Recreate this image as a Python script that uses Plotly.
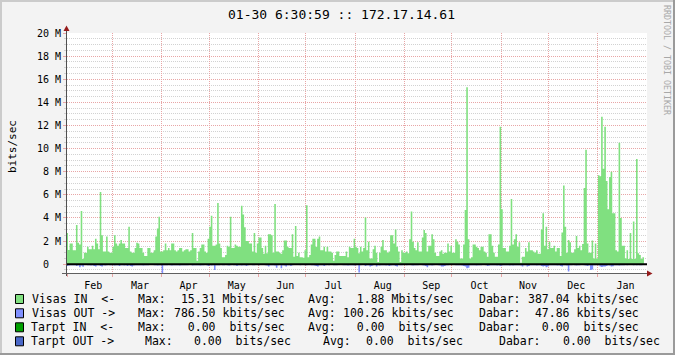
import plotly.graph_objects as go
import pandas as pd

# ---------------- data (Mbits/sec, one value per day) ----------------
START_DAY = "2010-01-31"

VISAS_IN = [
    2.7, 1.24, 1.8, 1.8, 1.2, 1.2, 3.4, 1.85, 1.7, 4.6,
    0.45, 1.0, 1.0, 1.5, 1.3, 1.3, 1.6, 1.3, 2.2, 1.8,
    1.3, 6.25, 2.5, 1.1, 1.1, 2.4, 1.1, 1.0, 1.0, 1.5,
    2.5, 1.8, 1.6, 1.8, 2.1, 1.8, 1.8, 1.4, 1.4, 3.25,
    1.1, 1.0, 1.0, 1.4, 1.85, 1.8, 1.4, 1.4, 1.0, 0.7,
    0.7, 1.4, 1.4, 1.0, 1.0, 1.2, 2.4, 3.1, 4.1, 1.1,
    1.1, 1.2, 1.8, 1.2, 1.4, 1.2, 1.8, 1.8, 1.2, 1.1,
    1.2, 1.4, 1.4, 1.1, 1.2, 1.3, 1.3, 1.1, 1.2, 2.7,
    1.4, 1.4, 0.3, 1.1, 1.4, 1.7, 1.7, 1.1, 1.0, 2.2,
    3.25, 4.2, 1.6, 1.6, 1.7, 5.3, 1.8, 1.4, 0.6, 0.6,
    0.8, 1.6, 1.5, 4.1, 1.4, 1.4, 1.7, 1.6, 1.5, 1.5,
    5.05, 4.3, 3.2, 2.0, 2.0, 1.8, 1.8, 1.1, 2.7, 1.0,
    1.8, 2.3, 2.3, 1.4, 0.9, 1.6, 0.95, 2.6, 2.6, 2.5,
    1.0, 5.2, 1.1, 1.1, 1.0, 0.9, 1.2, 2.05, 2.05, 1.5,
    1.4, 1.4, 2.6, 0.65, 3.3, 0.7, 1.0, 0.6, 0.6, 0.55,
    1.2, 5.1, 0.6, 0.8, 1.7, 2.2, 2.2, 1.5, 2.2, 2.4,
    1.2, 1.2, 1.5, 1.1, 1.5, 1.1, 1.1, 1.0, 0.3, 0.8,
    1.1, 1.1, 0.7, 0.7, 0.7, 0.7, 1.1, 0.6, 1.5, 1.4,
    1.4, 2.2, 1.5, 1.4, 0.95, 1.5, 1.1, 1.4, 4.05, 1.2,
    1.95, 0.5, 0.5, 1.3, 1.6, 1.0, 0.2, 1.0, 1.5, 2.1,
    1.2, 1.2, 1.0, 1.1, 2.5, 2.5, 1.8, 3.0, 1.5, 1.1,
    0.2, 1.2, 1.0, 1.0, 1.1, 0.95, 2.15, 4.55, 1.95, 1.4,
    1.2, 1.9, 1.1, 1.1, 2.3, 2.95, 2.7, 1.1, 1.6, 1.6,
    2.6, 2.15, 1.0, 0.7, 0.7, 1.1, 1.2, 0.9, 1.0, 1.0,
    1.8, 1.1, 1.6, 1.0, 1.0, 2.15, 1.95, 1.7, 0.5, 0.5,
    1.7, 4.7, 15.31, 2.15, 0.5, 0.6, 1.7, 1.7, 1.5, 1.4,
    1.2, 1.5, 1.5, 1.1, 1.0, 0.65, 2.6, 2.6, 1.6, 1.0,
    0.65, 0.65, 1.7, 11.9, 4.75, 1.4, 1.4, 1.1, 1.1, 1.6,
    5.65, 1.7, 2.15, 2.6, 1.5, 1.9, 0.13, 0.65, 0.65, 1.4,
    1.1, 1.9, 1.2, 1.2, 1.1, 1.0, 1.2, 0.9, 0.9, 3.0,
    4.4, 1.6, 3.25, 1.3, 1.95, 1.4, 1.4, 1.6, 1.1, 1.4,
    1.4, 0.7, 2.75, 6.8, 3.25, 1.0, 2.1, 1.9, 1.0, 1.0,
    1.3, 2.45, 1.4, 1.6, 1.2, 1.75, 6.6, 9.9, 1.8, 1.0,
    1.0, 2.05, 0.5, 1.8, 0.5, 7.7, 7.6, 12.75, 8.25, 11.9,
    7.2, 4.75, 7.55, 8.0, 4.4, 4.4, 1.2, 1.1, 10.5, 4.0,
    1.6, 1.6, 0.5, 1.2, 0.45, 2.7, 0.45, 3.7, 0.45, 9.1,
    0.95, 0.8, 0.45, 0.6,
]

VISAS_OUT = [
    0.15, 0.12, 0.1, 0.1, 0.08, 0.1, 0.15, 0.1, 0.26, 0.12,
    0.22, 0.05, 0.0, 0.1, 0.08, 0.12, 0.1, 0.15, 0.2, 0.1,
    0.1, 0.15, 0.2, 0.1, 0.12, 0.08, 0.0, 0.1, 0.1, 0.1,
    0.12, 0.1, 0.1, 0.15, 0.1, 0.1, 0.12, 0.1, 0.15, 0.1,
    0.15, 0.2, 0.12, 0.1, 0.1, 0.1, 0.08, 0.1, 0.12, 0.1,
    0.1, 0.1, 0.05, 0.0, 0.05, 0.08, 0.1, 0.12, 0.1, 0.1,
    0.786, 0.1, 0.08, 0.1, 0.05, 0.1, 0.12, 0.1, 0.08, 0.1,
    0.1, 0.12, 0.1, 0.1, 0.08, 0.1, 0.1, 0.0, 0.05, 0.12,
    0.1, 0.1, 0.1, 0.08, 0.12, 0.1, 0.1, 0.05, 0.1, 0.15,
    0.1, 0.12, 0.1, 0.5, 0.1, 0.1, 0.08, 0.05, 0.1, 0.1,
    0.0, 0.1, 0.12, 0.1, 0.05, 0.08, 0.1, 0.15, 0.1, 0.1,
    0.12, 0.1, 0.1, 0.15, 0.1, 0.0, 0.05, 0.1, 0.08, 0.0,
    0.05, 0.1, 0.0, 0.0, 0.05, 0.1, 0.12, 0.2, 0.1, 0.08,
    0.1, 0.12, 0.3, 0.1, 0.05, 0.35, 0.1, 0.12, 0.2, 0.08,
    0.1, 0.15, 0.1, 0.05, 0.0, 0.05, 0.0, 0.1, 0.0, 0.05,
    0.1, 0.1, 0.0, 0.05, 0.1, 0.08, 0.12, 0.15, 0.2, 0.1,
    0.08, 0.1, 0.15, 0.1, 0.05, 0.1, 0.0, 0.05, 0.1, 0.08,
    0.1, 0.05, 0.0, 0.05, 0.1, 0.1, 0.08, 0.12, 0.1, 0.1,
    0.1, 0.12, 0.1, 0.05, 0.72, 0.1, 0.0, 0.05, 0.15, 0.1,
    0.08, 0.2, 0.15, 0.1, 0.05, 0.2, 0.1, 0.12, 0.1, 0.1,
    0.1, 0.12, 0.1, 0.15, 0.12, 0.1, 0.1, 0.15, 0.2, 0.05,
    0.1, 0.08, 0.0, 0.05, 0.1, 0.0, 0.05, 0.1, 0.12, 0.1,
    0.1, 0.08, 0.0, 0.05, 0.1, 0.12, 0.15, 0.26, 0.1, 0.1,
    0.12, 0.1, 0.05, 0.0, 0.1, 0.12, 0.2, 0.2, 0.15, 0.1,
    0.1, 0.05, 0.0, 0.0, 0.05, 0.1, 0.1, 0.08, 0.1, 0.12,
    0.15, 0.2, 0.35, 0.3, 0.1, 0.1, 0.08, 0.1, 0.12, 0.1,
    0.1, 0.1, 0.05, 0.05, 0.1, 0.15, 0.12, 0.1, 0.1, 0.08,
    0.1, 0.12, 0.1, 0.15, 0.12, 0.1, 0.1, 0.08, 0.1, 0.12,
    0.1, 0.12, 0.1, 0.08, 0.1, 0.1, 0.12, 0.2, 0.1, 0.1,
    0.2, 0.15, 0.1, 0.1, 0.08, 0.1, 0.12, 0.1, 0.1, 0.15,
    0.2, 0.15, 0.26, 0.2, 0.1, 0.1, 0.08, 0.1, 0.1, 0.12,
    0.1, 0.15, 0.2, 0.1, 0.1, 0.12, 0.64, 0.1, 0.08, 0.05,
    0.1, 0.12, 0.1, 0.1, 0.05, 0.0, 0.08, 0.12, 0.15, 0.1,
    0.5, 0.45, 0.1, 0.08, 0.05, 0.1, 0.2, 0.25, 0.2, 0.2,
    0.15, 0.1, 0.12, 0.2, 0.18, 0.1, 0.08, 0.1, 0.12, 0.1,
    0.1, 0.08, 0.05, 0.1, 0.05, 0.0, 0.05, 0.1, 0.05, 0.1,
    0.05, 0.1, 0.08, 0.05,
]

Y_TICKS = [0, 2, 4, 6, 8, 10, 12, 14, 16, 18, 20]
Y_TICKTEXT = ["0\u00a0\u00a0", "2 M", "4 M", "6 M", "8 M", "10 M", "12 M",
              "14 M", "16 M", "18 M", "20 M"]

TITLE = "01-30 6:30:59 :: 172.17.14.61"
Y_TITLE = "bits/sec"
WATERMARK = "RRDTOOL / TOBI OETIKER"

LEGEND_NAMES = ["Visas IN  <-", "Visas OUT ->", "Tarpt IN  <-", "Tarpt OUT ->"]
LEGEND_COLORS = ["#80E080", "#8090FF", "#00A000", "#4A68C8"]
LEGEND_MAX = [" 15.31 Mbits/sec", "786.50 kbits/sec", "  0.00  bits/sec", "0.00  bits/sec"]
LEGEND_AVG = ["  1.88 Mbits/sec", "100.26 kbits/sec", "  0.00  bits/sec", "0.00  bits/sec"]
LEGEND_CUR = ["387.04 kbits/sec", " 47.86 kbits/sec", "  0.00  bits/sec", "0.00  bits/sec"]

# ---------------- layout geometry ----------------
W, H = 675, 355
PL, PR, PT, PB = 67, 647, 33, 273
MONO = "DejaVu Sans Mono"
GRID_MAJOR = "#E8A6A6"
GRID_MINOR = "#D2D2D2"


def px(x):
    return (x - PL) / (PR - PL)


def py(y):
    return (PB - y) / (PB - PT)


def nb(s):
    return s.replace(" ", "\u00a0")


n = min(len(VISAS_IN), len(VISAS_OUT))
days = list(pd.date_range(START_DAY, periods=n + 1, freq="D"))
y_in = VISAS_IN[:n] + [VISAS_IN[n - 1]]
y_out = [-v for v in VISAS_OUT[:n]] + [-VISAS_OUT[n - 1]]

fig = go.Figure()
fig.add_trace(go.Scatter(x=days, y=y_in, mode="lines", line=dict(width=0, shape="hv"),
                         fill="tozeroy", fillcolor=LEGEND_COLORS[0], hoverinfo="skip",
                         showlegend=False))
fig.add_trace(go.Scatter(x=days, y=y_out, mode="lines", line=dict(width=0, shape="hv"),
                         fill="tozeroy", fillcolor=LEGEND_COLORS[1], hoverinfo="skip",
                         showlegend=False))

shapes = []
# zero rule
shapes.append(dict(type="line", xref="paper", yref="y", x0=0, x1=1, y0=0, y1=0,
                   line=dict(color="#000000", width=2), layer="above"))
# axes lines
shapes.append(dict(type="line", xref="paper", yref="paper", x0=px(66.5), x1=px(66.5),
                   y0=py(276), y1=py(31), line=dict(color="#505050", width=1), layer="above"))
shapes.append(dict(type="line", xref="paper", yref="paper", x0=px(62), x1=px(647),
                   y0=py(273.5), y1=py(273.5), line=dict(color="#606060", width=1), layer="above"))
# arrows
shapes.append(dict(type="path", xref="paper", yref="paper",
                   path=f"M {px(63.5)},{py(31)} L {px(69.5)},{py(31)} L {px(66.5)},{py(25.5)} Z",
                   fillcolor="#951B1B", line=dict(width=0), layer="above"))
shapes.append(dict(type="path", xref="paper", yref="paper",
                   path=f"M {px(647)},{py(270.5)} L {px(647)},{py(276.5)} L {px(652.5)},{py(273.5)} Z",
                   fillcolor="#951B1B", line=dict(width=0), layer="above"))
# outer shade frame
shapes.append(dict(type="line", xref="paper", yref="paper", x0=px(0), x1=px(675),
                   y0=py(1), y1=py(1), line=dict(color="#CBCBCB", width=2)))
shapes.append(dict(type="line", xref="paper", yref="paper", x0=px(1), x1=px(1),
                   y0=py(0), y1=py(355), line=dict(color="#CBCBCB", width=2)))
shapes.append(dict(type="line", xref="paper", yref="paper", x0=px(0), x1=px(675),
                   y0=py(354), y1=py(354), line=dict(color="#9A9A9A", width=2)))
shapes.append(dict(type="line", xref="paper", yref="paper", x0=px(674), x1=px(674),
                   y0=py(0), y1=py(355), line=dict(color="#9A9A9A", width=2)))

annotations = []
annotations.append(dict(text=nb(TITLE), x=px(341), y=py(14), xref="paper", yref="paper",
                        showarrow=False, xanchor="center", yanchor="middle",
                        font=dict(family=MONO, size=13, color="#000000")))
annotations.append(dict(text=nb(Y_TITLE), x=px(12), y=py(147), xref="paper", yref="paper",
                        showarrow=False, xanchor="center", yanchor="middle", textangle=-90,
                        font=dict(family=MONO, size=11, color="#000000")))
annotations.append(dict(text=nb(WATERMARK), x=px(667), y=py(60), xref="paper", yref="paper",
                        showarrow=False, xanchor="center", yanchor="middle", textangle=90,
                        font=dict(family=MONO, size=8.3, color="#A8A8A8")))

ROW_Y = [299, 313.3, 327.3, 341.3]
LF = dict(family=MONO, size=11.5, color="#000000")
for i in range(4):
    cy = ROW_Y[i]
    shapes.append(dict(type="rect", xref="paper", yref="paper",
                       x0=px(15.5), x1=px(23.5), y0=py(cy - 4.5), y1=py(cy + 4.5),
                       fillcolor=LEGEND_COLORS[i], line=dict(color="#000000", width=1)))
    if i < 3:
        pieces = [(31 if i < 2 else 30, LEGEND_NAMES[i]), (137, "Max:"), (172.7, LEGEND_MAX[i]),
                  (307, "Avg:"), (342.3, LEGEND_AVG[i]), (478, "Dabar:"), (527, LEGEND_CUR[i])]
    else:
        pieces = [(30, LEGEND_NAMES[i]), (144, "Max:"), (193, LEGEND_MAX[i]),
                  (322, "Avg:"), (365, LEGEND_AVG[i]), (498, "Dabar:"), (562, LEGEND_CUR[i])]
    for xx, t in pieces:
        annotations.append(dict(text=nb(t), x=px(xx - 1), y=py(cy), xref="paper", yref="paper",
                                showarrow=False, xanchor="left", yanchor="middle", font=LF))

fig.update_layout(
    width=W, height=H,
    margin=dict(l=PL, r=W - PR, t=PT, b=H - PB, pad=0),
    paper_bgcolor="#F3F3F3", plot_bgcolor="#FFFFFF",
    showlegend=False,
    shapes=shapes, annotations=annotations,
    xaxis=dict(
        type="date", range=["2010-01-31 09:00", "2011-01-31 22:00"],
        dtick="M1", tick0="2010-01-01", tickformat="%b", ticklabelmode="period",
        ticklabelshift=3,
        showgrid=True, gridcolor=GRID_MAJOR, griddash="1px,1px", gridwidth=1,
        ticks="outside", ticklen=3, tickcolor=GRID_MAJOR,
        tickfont=dict(family=MONO, size=10, color="#000000"),
        showline=False, zeroline=False, fixedrange=True,
    ),
    yaxis=dict(
        range=[-0.76, 20], tickvals=Y_TICKS, ticktext=Y_TICKTEXT,
        showgrid=True, gridcolor=GRID_MAJOR, griddash="1px,1px", gridwidth=1,
        ticks="outside", ticklen=3, tickcolor=GRID_MAJOR,
        tickfont=dict(family=MONO, size=10, color="#000000"),
        minor=dict(dtick=0.5, tick0=0, showgrid=True, gridcolor=GRID_MINOR,
                   griddash="1px,1px", ticks="outside", ticklen=2, tickcolor=GRID_MINOR),
        showline=False, zeroline=False, fixedrange=True,
    ),
)

fig.write_html("out.html")
